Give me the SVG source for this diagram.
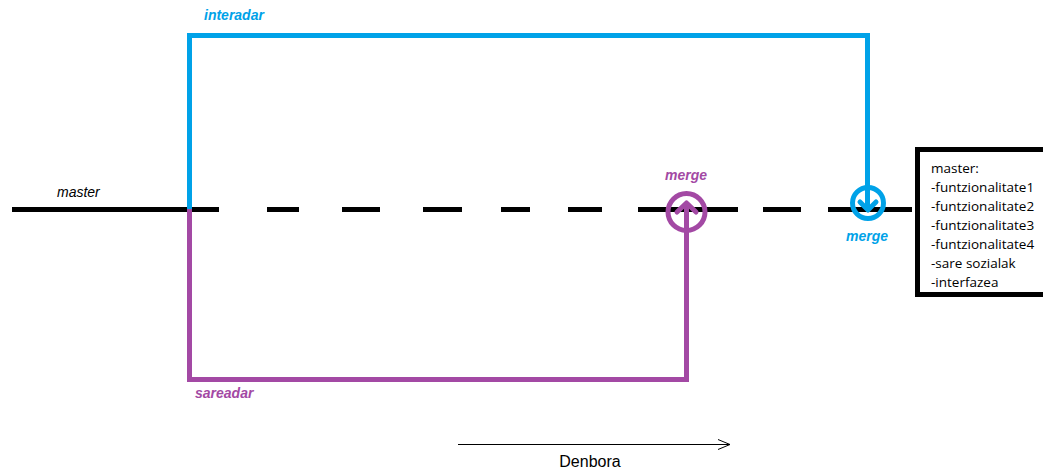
<svg xmlns="http://www.w3.org/2000/svg" width="1043" height="472" viewBox="0 0 1043 472">
  <defs>
    <style>
      .lbl { font-family: "Liberation Sans", "Open Sans", sans-serif; font-style: italic; font-weight: bold; font-size: 14px; }
      .blue { fill: #00A2E8; }
      .purple { fill: #A349A4; }
      .master { stroke: #000; stroke-width: 5; fill: none; }
      .bl { stroke: #00A2E8; stroke-width: 5; fill: none; }
      .pu { stroke: #A349A4; stroke-width: 5; fill: none; }
      .box text { font-family: "Open Sans", "Liberation Sans", sans-serif; font-size: 13.5px; fill: #000; }
    </style>
    <marker id="open" markerWidth="14" markerHeight="12" refX="13" refY="6" orient="auto" markerUnits="userSpaceOnUse">
      <path d="M1,1 L13,6 L1,11" fill="none" stroke="#000" stroke-width="1"/>
    </marker>
  </defs>
  <rect width="1043" height="472" fill="#fff"/>

  <g id="connectors">
    <!-- master branch: solid start, then dashed -->
    <line class="master" x1="12" y1="209.5" x2="219" y2="209.5"/>
    <path class="master" d="M267,209.5H299 M342,209.5H380 M423,209.5H462 M501,209.5H530 M568,209.5H602 M638,209.5H738 M763,209.5H801 M828,209.5H912"/>
    <!-- interadar branch -->
    <path class="bl" d="M189.5,209 V35.5 H867.5 V208"/>
    <!-- sareadar branch -->
    <path class="pu" d="M189.5,209 V379.5 H686.5 V206"/>
    <!-- time axis -->
    <line x1="458" y1="444.5" x2="730" y2="444.5" stroke="#000" stroke-width="1" marker-end="url(#open)"/>
  </g>

  <g id="merge-sareadar">
    <circle cx="686.5" cy="212" r="18.5" fill="none" stroke="#A349A4" stroke-width="5"/>
    <path d="M677,212 L686.5,203 L696,212" fill="none" stroke="#A349A4" stroke-width="5" stroke-linecap="round" stroke-linejoin="round"/>
    <text class="lbl purple" x="686" y="180" text-anchor="middle">merge</text>
  </g>

  <g id="merge-interadar">
    <circle cx="868" cy="203" r="15.5" fill="none" stroke="#00A2E8" stroke-width="5"/>
    <path d="M860,202 L868,210 L876,202" fill="none" stroke="#00A2E8" stroke-width="5" stroke-linecap="round" stroke-linejoin="round"/>
    <text class="lbl blue" x="867" y="241" text-anchor="middle">merge</text>
  </g>

  <g id="label-interadar">
    <text class="lbl blue" x="204" y="20">interadar</text>
  </g>
  <g id="label-sareadar">
    <text class="lbl purple" x="195" y="398">sareadar</text>
  </g>
  <g id="label-master">
    <text x="57" y="197" font-family="Liberation Sans, sans-serif" font-style="italic" font-size="14" fill="#000">master</text>
  </g>

  <g id="master-box" class="box">
    <rect x="917.5" y="149.5" width="130" height="145" fill="#fff" stroke="#000" stroke-width="5"/>
    <text x="931" y="173">master:</text>
    <text x="931" y="192">-funtzionalitate1</text>
    <text x="931" y="211">-funtzionalitate2</text>
    <text x="931" y="230">-funtzionalitate3</text>
    <text x="931" y="249">-funtzionalitate4</text>
    <text x="931" y="268">-sare sozialak</text>
    <text x="931" y="287">-interfazea</text>
  </g>

  <g id="label-denbora">
    <text x="590" y="467" text-anchor="middle" font-family="Liberation Sans, sans-serif" font-size="16" fill="#000">Denbora</text>
  </g>
</svg>
